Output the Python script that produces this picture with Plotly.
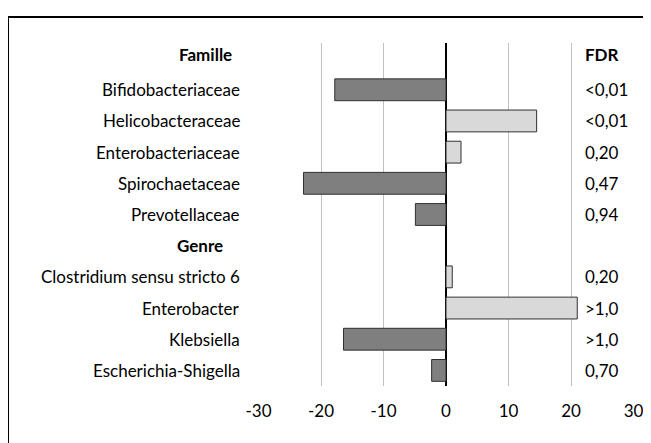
import plotly.graph_objects as go

categories = ["Famille", "Bifidobacteriaceae", "Helicobacteraceae", "Enterobacteriaceae",
              "Spirochaetaceae", "Prevotellaceae", "Genre", "Clostridium sensu stricto 6",
              "Enterobacter", "Klebsiella", "Escherichia-Shigella"]
values = [None, -17.8, 14.5, 2.4, -22.8, -4.9, None, 1.0, 21.0, -16.4, -2.3]
fdr = ["FDR", "<0,01", "<0,01", "0,20", "0,47", "0,94", "", "0,20", ">1,0", ">1,0", "0,70"]
tick_vals = [-30, -20, -10, 0, 10, 20, 30]
tick_text = ["-30", "-20", "-10", "0", "10", "20", "30"]

FONT = "Lato"
FS = 17
DARK = "#7f7f7f"
LIGHT = "#d9d9d9"

# page has an 8px body margin; work in screenshot pixels and subtract it
OFF = 8
W, H = 651 - OFF, 443 - OFF
PL, PR, PT, PB = 258, 634, 43, 386   # plot area in screenshot pixels
L = PL - OFF
R = W - (PR - OFF)
T = PT - OFF
B = H - (PB - OFF)
PW = W - L - R
PH = H - T - B


def px_x(p):
    return (p - PL) / PW


def px_y(p):
    return (PB - p) / PH


ypos = list(range(len(categories)))
bar_y = [i for i, v in zip(ypos, values) if v is not None]
bar_x = [v for v in values if v is not None]
bar_c = [DARK if v < 0 else LIGHT for v in bar_x]

fig = go.Figure()
fig.add_trace(go.Bar(x=bar_x, y=bar_y, orientation="h", width=0.7,
                     marker=dict(color=bar_c, line=dict(color="#303030", width=1)),
                     hoverinfo="skip", showlegend=False))

annotations = []
for i, (cat, f) in enumerate(zip(categories, fdr)):
    yy = i - 0.13 if i == 0 else i
    if cat == "Famille":
        annotations.append(dict(x=px_x(234), y=yy, xref="paper", yref="y", text="<b>Famille</b>",
                                xanchor="right", showarrow=False))
    elif cat == "Genre":
        annotations.append(dict(x=px_x(200), y=yy, xref="paper", yref="y", text="<b>Genre</b>",
                                xanchor="center", showarrow=False))
    else:
        annotations.append(dict(x=px_x(242), y=yy, xref="paper", yref="y", text=cat,
                                xanchor="right", showarrow=False))
    if f:
        txt = "<b>%s</b>" % f if i == 0 else f
        annotations.append(dict(x=px_x(583), y=yy, xref="paper", yref="y", text=txt,
                                xanchor="left", showarrow=False))

fig.update_layout(
    width=W, height=H,
    margin=dict(l=L, r=R, t=T, b=B),
    paper_bgcolor="white", plot_bgcolor="white",
    font=dict(family=FONT, size=FS, color="#000000"),
    xaxis=dict(range=[-30.08, 30.08], tickvals=tick_vals, ticktext=tick_text,
               showgrid=True, gridcolor="#c0c0c0",
               gridwidth=1, zeroline=True, zerolinecolor="#000000", zerolinewidth=2,
               ticks="outside", ticklen=10, tickcolor="rgba(0,0,0,0)", showline=False,
               fixedrange=True, automargin=False),
    yaxis=dict(range=[10.5, -0.5], showticklabels=False, showgrid=False, zeroline=False,
               fixedrange=True, automargin=False),
    annotations=annotations,
    shapes=[
        dict(type="line", xref="paper", yref="paper", x0=px_x(8), x1=px_x(700),
             y0=px_y(17), y1=px_y(17), line=dict(color="#000000", width=2)),
        dict(type="line", xref="paper", yref="paper", x0=px_x(8), x1=px_x(8),
             y0=px_y(17), y1=px_y(500), line=dict(color="#000000", width=2)),
    ],
)
fig.write_html("out.html")
